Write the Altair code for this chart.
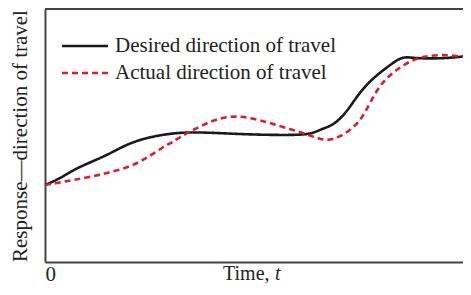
import altair as alt
import pandas as pd

# Desired direction of travel (solid black)
desired_t = [0, 15, 28, 45, 62, 75, 88, 105, 128, 152, 192, 225, 258, 268, 277, 288, 297, 305, 315, 328, 345, 355, 362, 372, 388, 405, 426]
desired_r = [77, 83.5, 92, 99.5, 107, 114, 120, 125, 129, 130, 128, 127, 127, 129, 133, 137, 145, 155, 170, 184, 197, 204, 205, 203.7, 203.5, 204, 206.5]

# Actual direction of travel (dashed red)
actual_t = [0, 15, 28, 45, 62, 85, 102, 118, 128, 135, 148, 168, 185, 202, 222, 238, 258, 272, 282, 295, 308, 317, 325, 335, 345, 358, 372, 388, 405, 418, 426]
actual_r = [77, 79.5, 82, 85, 89, 95, 104, 115, 120, 125, 132, 142, 146, 145, 140, 135, 129, 124, 121, 125, 134, 144, 159, 177, 187, 197, 204, 207, 207, 205, 205]

series_names = ["Desired direction of travel", "Actual direction of travel"]
x_tick_values = [0]

rows = []
for t, r in zip(desired_t, desired_r):
    rows.append({"t": t, "r": r, "series": series_names[0]})
for t, r in zip(actual_t, actual_r):
    rows.append({"t": t, "r": r, "series": series_names[1]})
df = pd.DataFrame(rows)
one = pd.DataFrame({"k": [0]})

W, H = 426, 253
FONT = "Liberation Serif"

lines = alt.Chart(df).mark_line(interpolate="basis", strokeWidth=2.6).encode(
    x=alt.X("t:Q", scale=alt.Scale(domain=[0, 426], nice=False, zero=False),
            axis=alt.Axis(values=x_tick_values, ticks=False, grid=False, title=None,
                          labelFont=FONT, labelFontSize=21, labelColor="#222",
                          labelPadding=1, domainColor="#444", domainWidth=2)),
    y=alt.Y("r:Q", scale=alt.Scale(domain=[0, 253], nice=False, zero=False),
            axis=alt.Axis(labels=False, ticks=False, grid=False,
                          title="Response\u2014direction of travel",
                          titleFont=FONT, titleFontSize=21, titleFontWeight="normal",
                          titleColor="#222", titlePadding=15,
                          domainColor="#444", domainWidth=2)),
    color=alt.Color("series:N", sort=series_names,
                    scale=alt.Scale(domain=series_names, range=["#1a1a1a", "#d42030"]),
                    legend=alt.Legend(title=None, orient="none", legendX=27, legendY=24,
                                      symbolType="M-2,0L2,0", symbolSize=529,
                                      symbolStrokeWidth=2.6, labelFont=FONT,
                                      labelFontSize=21, labelColor="#222", labelLimit=0,
                                      labelOffset=17, rowPadding=4, padding=0)),
    strokeDash=alt.StrokeDash("series:N", sort=series_names,
                              scale=alt.Scale(domain=series_names, range=[[1, 0], [6, 4]]),
                              legend=None),
    order="t:Q",
)

top_border = alt.Chart(one).mark_rule(color="#444", strokeWidth=2).encode(
    x=alt.value(0), x2=alt.value(W), y=alt.value(0)
)

time_label = alt.Chart(one).mark_text(text="Time,", font=FONT, fontSize=20, color="#222",
                                      align="left", baseline="alphabetic").encode(
    x=alt.value(178), y=alt.value(271)
)
t_label = alt.Chart(one).mark_text(text="t", font=FONT, fontSize=20, fontStyle="italic",
                                   color="#222", align="left", baseline="alphabetic").encode(
    x=alt.value(230), y=alt.value(271)
)

chart = alt.layer(lines, top_border, time_label, t_label).properties(
    width=W, height=H,
    autosize=alt.AutoSizeParams(type="none"),
    padding={"left": 37, "top": 1, "right": -8, "bottom": 23},
).configure_view(strokeWidth=0)

chart.save("out.html", embed_options={"renderer": "svg", "actions": False})
